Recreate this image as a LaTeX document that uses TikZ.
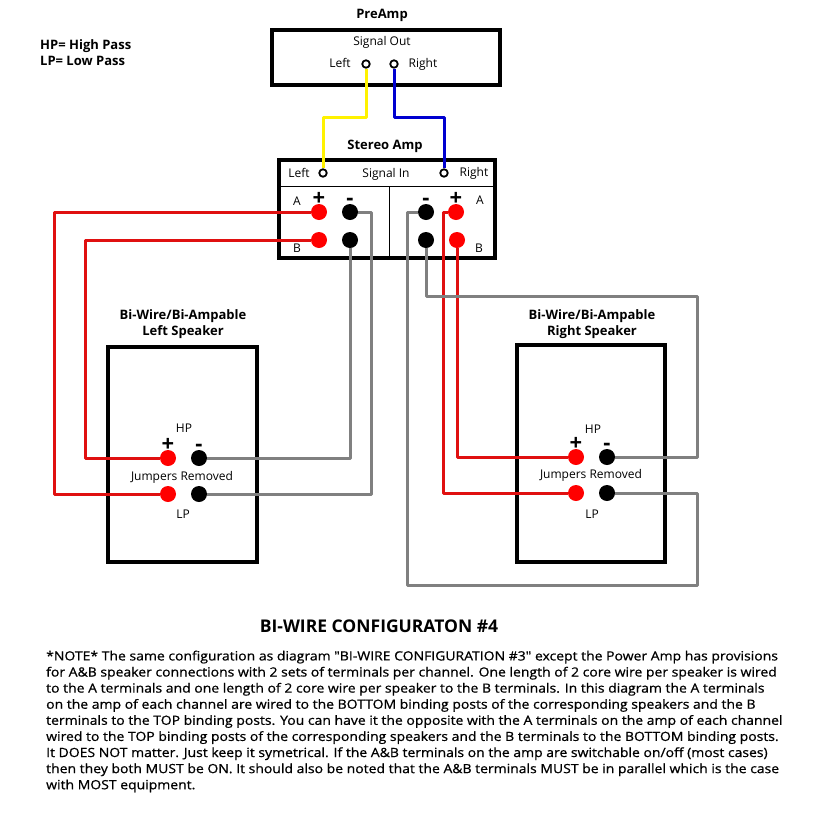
\documentclass[tikz,border=0pt]{standalone}
\usepackage{fontspec}
\setmainfont{Open Sans}
\newfontfamily\notefont{Open Sans}[FakeStretch=1.1,FakeBold=0.8]
\tikzset{
  box/.style={draw,line width=4pt,line join=miter},
  jack/.style={circle,draw,line width=1.8pt,fill=white,inner sep=0pt,minimum size=7.5pt},
  redpost/.style={circle,fill=postred,inner sep=0pt,minimum size=16pt},
  blackpost/.style={circle,fill=black,inner sep=0pt,minimum size=16pt},
  sign/.style={label distance=-5pt,font=\fontsize{22}{22}\selectfont\bfseries},
  wire/.style={line width=3pt,line join=round},
  redwire/.style={wire,draw=wirered},
  greywire/.style={wire,draw=wiregrey},
  txt/.style={inner sep=0pt,text height=10pt,text depth=1.5pt,font=\fontsize{12}{14}\selectfont},
  head/.style={inner sep=0pt,align=center,font=\fontsize{13}{15.5}\selectfont\bfseries},
}
\definecolor{postred}{HTML}{FF0000}
\definecolor{wirered}{HTML}{E01010}
\definecolor{wiregrey}{HTML}{808080}
\definecolor{wireblue}{HTML}{0000D0}
\begin{document}
\begin{tikzpicture}[x=1pt,y=-1pt]
  \useasboundingbox (0,0) rectangle (814,825);
  % boxes
  \draw[box] (272,30) rectangle (500,85);
  \draw[box] (279,160) rectangle (495,258);
  \draw[line width=1pt] (279,186) -- (495,186) (389,186) -- (389,258);
  \draw[box] (108,347) rectangle (257,562);
  \draw[box] (517,345) rectangle (665,562);
  % headings
  \node[head] (preamp) at (382,15) {PreAmp};
  \node[head] (stereo) at (385,146) {Stereo Amp};
  \node[head] (spkL) at (183,324) {Bi-Wire/Bi-Ampable\\Left Speaker};
  \node[head] (spkR) at (592,324) {Bi-Wire/Bi-Ampable\\Right Speaker};
  \node[head,align=left,anchor=north west,font=\fontsize{13}{16}\selectfont\bfseries] (legend) at (40,39) {HP= High Pass\\LP= Low Pass};
  % preamp
  \node[txt] (sigout) at (382,41) {Signal Out};
  \node[txt] (preL) at (340,63) {Left};
  \node[txt] (preR) at (423,63) {Right};
  \node[jack] (jackPL) at (366,64) {};
  \node[jack] (jackPR) at (394,64) {};
  % amp
  \node[txt] (ampL) at (299,173) {Left};
  \node[txt] (sigin) at (386,173) {Signal In};
  \node[txt] (ampR) at (474,172) {Right};
  \node[jack] (jackAL) at (323,173) {};
  \node[jack] (jackAR) at (444,173) {};
  \node[txt] (ampLA) at (297,201) {A};
  \node[txt] (ampLB) at (297,248) {B};
  \node[txt] (ampRA) at (480,200) {A};
  \node[txt] (ampRB) at (479,248) {B};
  \node[redpost,label={[sign]above:+}] (LAp) at (319,212) {};
  \node[blackpost,label={[sign]above:-}] (LAm) at (350,212) {};
  \node[redpost] (LBp) at (319,240) {};
  \node[blackpost] (LBm) at (350,240) {};
  \node[blackpost,label={[sign]above:-}] (RAm) at (426,212) {};
  \node[redpost,label={[sign]above:+}] (RAp) at (456,212) {};
  \node[blackpost] (RBm) at (426,240) {};
  \node[redpost] (RBp) at (457,240) {};
  % left speaker
  \node[txt] (hpL) at (184,428) {HP};
  \node[txt] (jumpL) at (182,476) {Jumpers Removed};
  \node[txt] (lpL) at (183,514) {LP};
  \node[redpost,label={[sign]above:+}] (HLp) at (168,458) {};
  \node[blackpost,label={[sign]above:-}] (HLm) at (199,458) {};
  \node[redpost] (LLp) at (168,494) {};
  \node[blackpost] (LLm) at (199,494) {};
  % right speaker
  \node[txt] (hpR) at (593,429) {HP};
  \node[txt] (jumpR) at (591,474) {Jumpers Removed};
  \node[txt] (lpR) at (592,514) {LP};
  \node[redpost,label={[sign]above:+}] (HRp) at (576,457) {};
  \node[blackpost,label={[sign]above:-}] (HRm) at (607,457) {};
  \node[redpost] (LRp) at (576,493) {};
  \node[blackpost] (LRm) at (607,493) {};
  % bends
  \coordinate (bendY) at (345,117);
  \coordinate (bendB) at (420,117);
  \coordinate (bendLA) at (54,350);
  \coordinate (bendLB) at (85,350);
  \coordinate (bendLC) at (371,350);
  \coordinate (bendRA) at (443,350);
  \coordinate (bendRB) at (407,585);
  \coordinate (bendRC) at (697,585);
  \coordinate (bendRD) at (697,296);
  % wires
  \draw[wire,draw=yellow] (jackPL) |- (bendY) -| (jackAL);
  \draw[wire,draw=wireblue] (jackPR) |- (bendB) -| (jackAR);
  \draw[redwire] (LAp) -| (bendLA) |- (LLp);
  \draw[redwire] (LBp) -| (bendLB) |- (HLp);
  \draw[greywire] (LAm) -| (bendLC) |- (LLm);
  \draw[greywire] (LBm) |- (HLm);
  \draw[redwire] (RAp) -| (bendRA) |- (LRp);
  \draw[redwire] (RBp) |- (HRp);
  \draw[greywire] (RAm) -| (bendRB) -- (bendRC) |- (LRm);
  \draw[greywire] (RBm) |- (bendRD) |- (HRm);
  % text
  \node[inner sep=0pt,font=\fontsize{17.5}{18}\selectfont\bfseries] (title) at (379,626) {BI-WIRE CONFIGURATON \#4};
  \node[inner sep=0pt,anchor=north west,align=left,font=\fontsize{12.7}{16.1}\notefont] (note) at (46,650.5)
    {*NOTE* The same configuration as diagram "BI-WIRE CONFIGURATION \#3" except the Power Amp has provisions\\
     for A\&B speaker connections with 2 sets of terminals per channel. One length of 2 core wire per speaker is wired\\
     to the A terminals and one length of 2 core wire per speaker to the B terminals. In this diagram the A terminals\\
     on the amp of each channel are wired to the BOTTOM binding posts of the corresponding speakers and the B\\
     terminals to the TOP binding posts. You can have it the opposite with the A terminals on the amp of each channel\\
     wired to the TOP binding posts of the corresponding speakers and the B terminals to the BOTTOM binding posts.\\
     It DOES NOT matter. Just keep it symetrical. If the A\&B terminals on the amp are switchable on/off (most cases)\\
     then they both MUST be ON. It should also be noted that the A\&B terminals MUST be in parallel which is the case\\
     with MOST equipment.};
\end{tikzpicture}
\end{document}
